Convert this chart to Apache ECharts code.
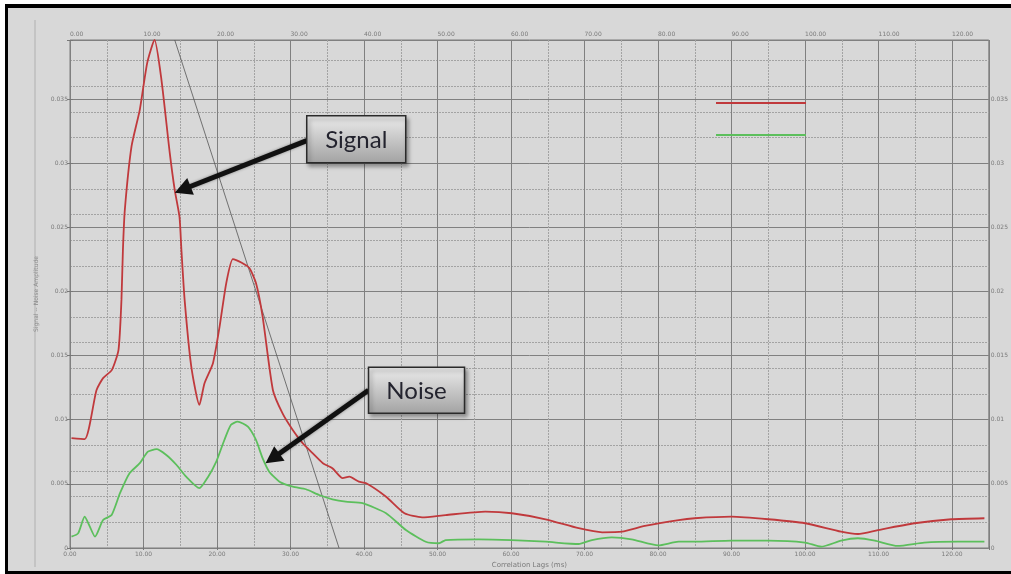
<!DOCTYPE html>
<html>
<head>
<meta charset="utf-8">
<script src="https://cdn.jsdelivr.net/npm/echarts@6/dist/echarts.min.js"></script>
<style>
  html, body { margin: 0; padding: 0; background: #ffffff; }
  #frame {
    position: absolute; left: 5px; top: 4px; width: 1006px; height: 570px;
    box-sizing: border-box; background: #d8d8d8;
    border-left: 3px solid #000; border-top: 4px solid #000; border-bottom: 3px solid #000;
  }
  #chart { position: absolute; left: 0; top: 0; width: 1011px; height: 574px; }
</style>
</head>
<body>
<div id="frame"></div>
<div id="chart"></div>
<script>
// lag (ms) / amplitude
var signalLag = [0.2, 2.0, 3.6, 4.5, 5.7, 6.6, 7.0, 7.2, 7.46, 8.37, 9.5, 10.5, 11.5, 12.44, 13.57, 14.25, 14.9, 15.15, 15.6, 16.5,
  17.6, 18.3, 19.45, 20.35, 21.26, 22.16, 23.3, 24.4, 25.3, 26.2, 27.6, 28.9, 30.3, 31.65, 33.0, 34.4, 35.7, 37.1, 38.0, 39.3,
  40.3, 43.0, 45.5, 47.9, 51.1, 56.5, 60.1, 64.7, 69.2, 72.4, 75.1, 78.2, 82.8, 85, 90, 95, 100, 104.9, 107.2, 109.9,
  114.9, 119.9, 124.4];
var signalAmp = [0.00856, 0.00848, 0.0123, 0.01324, 0.01389, 0.01545, 0.01934, 0.02325, 0.02637, 0.0313, 0.03417, 0.0378, 0.0396, 0.0365, 0.0308, 0.0279, 0.0258, 0.0233, 0.0193, 0.01414,
  0.01115, 0.01285, 0.01441, 0.01726, 0.02065, 0.02252, 0.02226, 0.02182, 0.02065, 0.01805, 0.01232, 0.01051, 0.0092, 0.00817, 0.00739, 0.00661, 0.00622, 0.00544, 0.00556, 0.00517,
  0.00505, 0.0040, 0.00271, 0.00239, 0.00257, 0.00283, 0.00271, 0.00224, 0.00154, 0.00122, 0.00127, 0.00172, 0.00218, 0.00232, 0.00244, 0.00224, 0.00193, 0.00127, 0.00109, 0.0014,
  0.00193, 0.00224, 0.00232];

var noiseLag = [0.2, 1.1, 2.0, 2.7, 3.4, 4.5, 5.66, 6.8, 8.1, 9.5, 10.6, 11.76, 13.1, 14.5, 15.8, 17.6, 18.8, 19.9, 21.0, 21.9,
  22.8, 24.2, 25.3, 26.2, 27.1, 28.5, 30.3, 32.1, 33.9, 35.7, 37.5, 39.8, 43.0, 45.7, 48.4, 50.2, 51.1, 55.6, 60.1, 64.7,
  69.2, 71.0, 73.7, 76.4, 80.05, 82.8, 85, 90, 95, 100, 102.2, 104.9, 107.2, 109.5, 112.6, 116.2, 120.8, 124.4];
var noiseAmp = [0.00088, 0.00114, 0.00244, 0.00166, 0.00088, 0.00218, 0.00257, 0.00427, 0.00583, 0.00661, 0.00751, 0.0077, 0.00725, 0.00647, 0.00556, 0.00466, 0.00556, 0.00673, 0.00842, 0.0096,
  0.00985, 0.00946, 0.00842, 0.0070, 0.00595, 0.00517, 0.00478, 0.00458, 0.00413, 0.0038, 0.00361, 0.00349, 0.00271, 0.0014, 0.00049, 0.00037, 0.00062, 0.00068, 0.00062, 0.00049,
  0.00031, 0.00062, 0.00083, 0.00068, 0.0002, 0.00049, 0.00049, 0.00057, 0.00057, 0.00042, 0.0001, 0.00057, 0.00076, 0.00057, 0.00016, 0.00042, 0.00049, 0.00049];

// thin guide line
var guideLag = [14.25, 36.6];
var guideAmp = [0.0396, 0];

var xTickLabels = ['0.00', '10.00', '20.00', '30.00', '40.00', '50.00', '60.00', '70.00', '80.00', '90.00', '100.00', '110.00', '120.00'];
var yTickLabels = ['0', '0.005', '0.01', '0.015', '0.02', '0.025', '0.03', '0.035'];

var X_MAX = 125, Y_MAX = 0.0396;

function zip(a, b) { return a.map(function (v, i) { return [v, b[i]]; }); }

function xLabel(v) {
  var i = Math.round(v / 10);
  return Math.abs(v - i * 10) < 1e-6 && xTickLabels[i] ? xTickLabels[i] : '';
}
function yLabel(v) {
  var i = Math.round(v / 0.005);
  return Math.abs(v - i * 0.005) < 1e-9 && yTickLabels[i] ? yTickLabels[i] : '';
}

var labelStyle = { fontSize: 6, color: '#7a7a7a', fontFamily: 'DejaVu Sans' };
var majorLine = { show: true, lineStyle: { color: '#808080', width: 1, type: 'solid' } };
var minorLine = { show: true, lineStyle: { color: '#a3a3a3', width: 1, type: [2, 1] } };

var chart = echarts.init(document.getElementById('chart'));
chart.setOption({
  backgroundColor: 'transparent',
  animation: false,
  grid: { left: 70, right: 19, top: 40, bottom: 26, show: true, borderColor: '#7d7d7d', borderWidth: 1 },
  legend: {
    left: 716, top: 102, orient: 'vertical', padding: 0, itemGap: 30, itemWidth: 90, itemHeight: 2,
    icon: 'rect', formatter: function () { return ''; },
    data: ['Signal', 'Noise']
  },
  xAxis: [
    { // hidden minor grid every 5
      type: 'value', min: 0, max: X_MAX, interval: 5, position: 'bottom',
      axisLine: { show: false }, axisTick: { show: false }, axisLabel: { show: false },
      splitLine: minorLine
    },
    {
      type: 'value', min: 0, max: X_MAX, interval: 10, position: 'bottom',
      name: 'Correlation Lags (ms)', nameLocation: 'middle', nameGap: 14,
      nameTextStyle: { fontSize: 7, color: '#7a7a7a', fontFamily: 'DejaVu Sans' },
      axisLine: { show: false }, axisTick: { show: true, length: 2, lineStyle: { color: '#777' } },
      axisLabel: Object.assign({ formatter: xLabel, margin: 3 }, labelStyle),
      splitLine: majorLine
    },
    {
      type: 'value', min: 0, max: X_MAX, interval: 10, position: 'top',
      axisLine: { show: false }, axisTick: { show: true, length: 2, lineStyle: { color: '#777' } },
      axisLabel: Object.assign({ formatter: xLabel, margin: 3, align: 'left' }, labelStyle),
      splitLine: { show: false }
    }
  ],
  yAxis: [
    { // hidden minor grid every 0.002
      type: 'value', min: 0, max: Y_MAX, interval: 0.002, position: 'left',
      axisLine: { show: false }, axisTick: { show: false }, axisLabel: { show: false },
      splitLine: minorLine
    },
    {
      type: 'value', min: 0, max: Y_MAX, interval: 0.005, position: 'left',
      name: 'Signal -- Noise Amplitude', nameLocation: 'middle', nameGap: 30,
      nameTextStyle: { fontSize: 6, color: '#8a8a8a', fontFamily: 'DejaVu Sans' },
      axisLine: { show: false }, axisTick: { show: true, length: 3, lineStyle: { color: '#777' } },
      axisLabel: Object.assign({ formatter: yLabel, margin: 2 }, labelStyle),
      splitLine: majorLine
    },
    {
      type: 'value', min: 0, max: Y_MAX, interval: 0.005, position: 'right',
      axisLine: { show: false }, axisTick: { show: true, length: 3, lineStyle: { color: '#777' } },
      axisLabel: Object.assign({ formatter: yLabel, margin: 2 }, labelStyle),
      splitLine: { show: false }
    }
  ],
  series: [
    {
      name: 'Guide', type: 'line', xAxisIndex: 1, yAxisIndex: 1,
      data: zip(guideLag, guideAmp), showSymbol: false, silent: true,
      lineStyle: { color: '#555', width: 0.8 }, z: 1
    },
    {
      name: 'Signal', type: 'line', xAxisIndex: 1, yAxisIndex: 1,
      data: zip(signalLag, signalAmp), showSymbol: false, smooth: 0.2,
      itemStyle: { color: '#c0393c' }, lineStyle: { color: '#c0393c', width: 1.8 }, z: 3
    },
    {
      name: 'Noise', type: 'line', xAxisIndex: 1, yAxisIndex: 1,
      data: zip(noiseLag, noiseAmp), showSymbol: false, smooth: 0.2,
      itemStyle: { color: '#5cbf5c' }, lineStyle: { color: '#5cbf5c', width: 1.8 }, z: 2
    }
  ]
});

// callouts anchored on the curves (tip in data coords, box offset in px)
var callouts = [
  { text: 'Signal', tip: [14.25, 0.0277], from: [132, -52], box: [132, -77, 99, 47] },
  { text: 'Noise', tip: [26.6, 0.0066], from: [103, -73], box: [103, -96, 96, 46] }
];

function arrow(p0, p1) {
  var dx = p1[0] - p0[0], dy = p1[1] - p0[1];
  var len = Math.sqrt(dx * dx + dy * dy), ux = dx / len, uy = dy / len;
  var hl = 17, hw = 9;
  var base = [p1[0] - ux * hl, p1[1] - uy * hl];
  return [
    { type: 'line', shape: { x1: p0[0], y1: p0[1], x2: base[0] + ux * 3, y2: base[1] + uy * 3 },
      style: { stroke: '#111', lineWidth: 5, shadowBlur: 3, shadowColor: 'rgba(0,0,0,0.4)' }, z: 20 },
    { type: 'polygon', shape: { points: [p1, [base[0] - uy * hw, base[1] + ux * hw], [base[0] + uy * hw, base[1] - ux * hw]] },
      style: { fill: '#111' }, z: 21 }
  ];
}

var graphics = [
  { type: 'line', shape: { x1: 35, y1: 20, x2: 35, y2: 567 }, style: { stroke: '#b0b0b0', lineWidth: 1 }, silent: true }
];
callouts.forEach(function (c) {
  var t = chart.convertToPixel({ xAxisIndex: 1, yAxisIndex: 1 }, c.tip);
  graphics = graphics.concat(arrow([t[0] + c.from[0], t[1] + c.from[1]], t));
  var bx = t[0] + c.box[0], by = t[1] + c.box[1];
  graphics.push({
    type: 'rect', shape: { x: bx, y: by, width: c.box[2], height: c.box[3] },
    style: {
      fill: new echarts.graphic.LinearGradient(0, 0, 0, 1, [
        { offset: 0, color: '#ececec' }, { offset: 1, color: '#a2a2a2' }
      ]),
      stroke: '#2a2a2a', lineWidth: 1.5,
      shadowBlur: 4, shadowOffsetX: 2, shadowOffsetY: 3, shadowColor: 'rgba(0,0,0,0.35)'
    }, z: 22
  });
  graphics.push({
    type: 'text', x: bx + c.box[2] / 2, y: by + c.box[3] / 2 + 1,
    style: { text: c.text, fill: '#23232e', font: '24px Lato', align: 'center', verticalAlign: 'middle' }, z: 23
  });
});
chart.setOption({ graphic: graphics });
</script>
</body>
</html>
